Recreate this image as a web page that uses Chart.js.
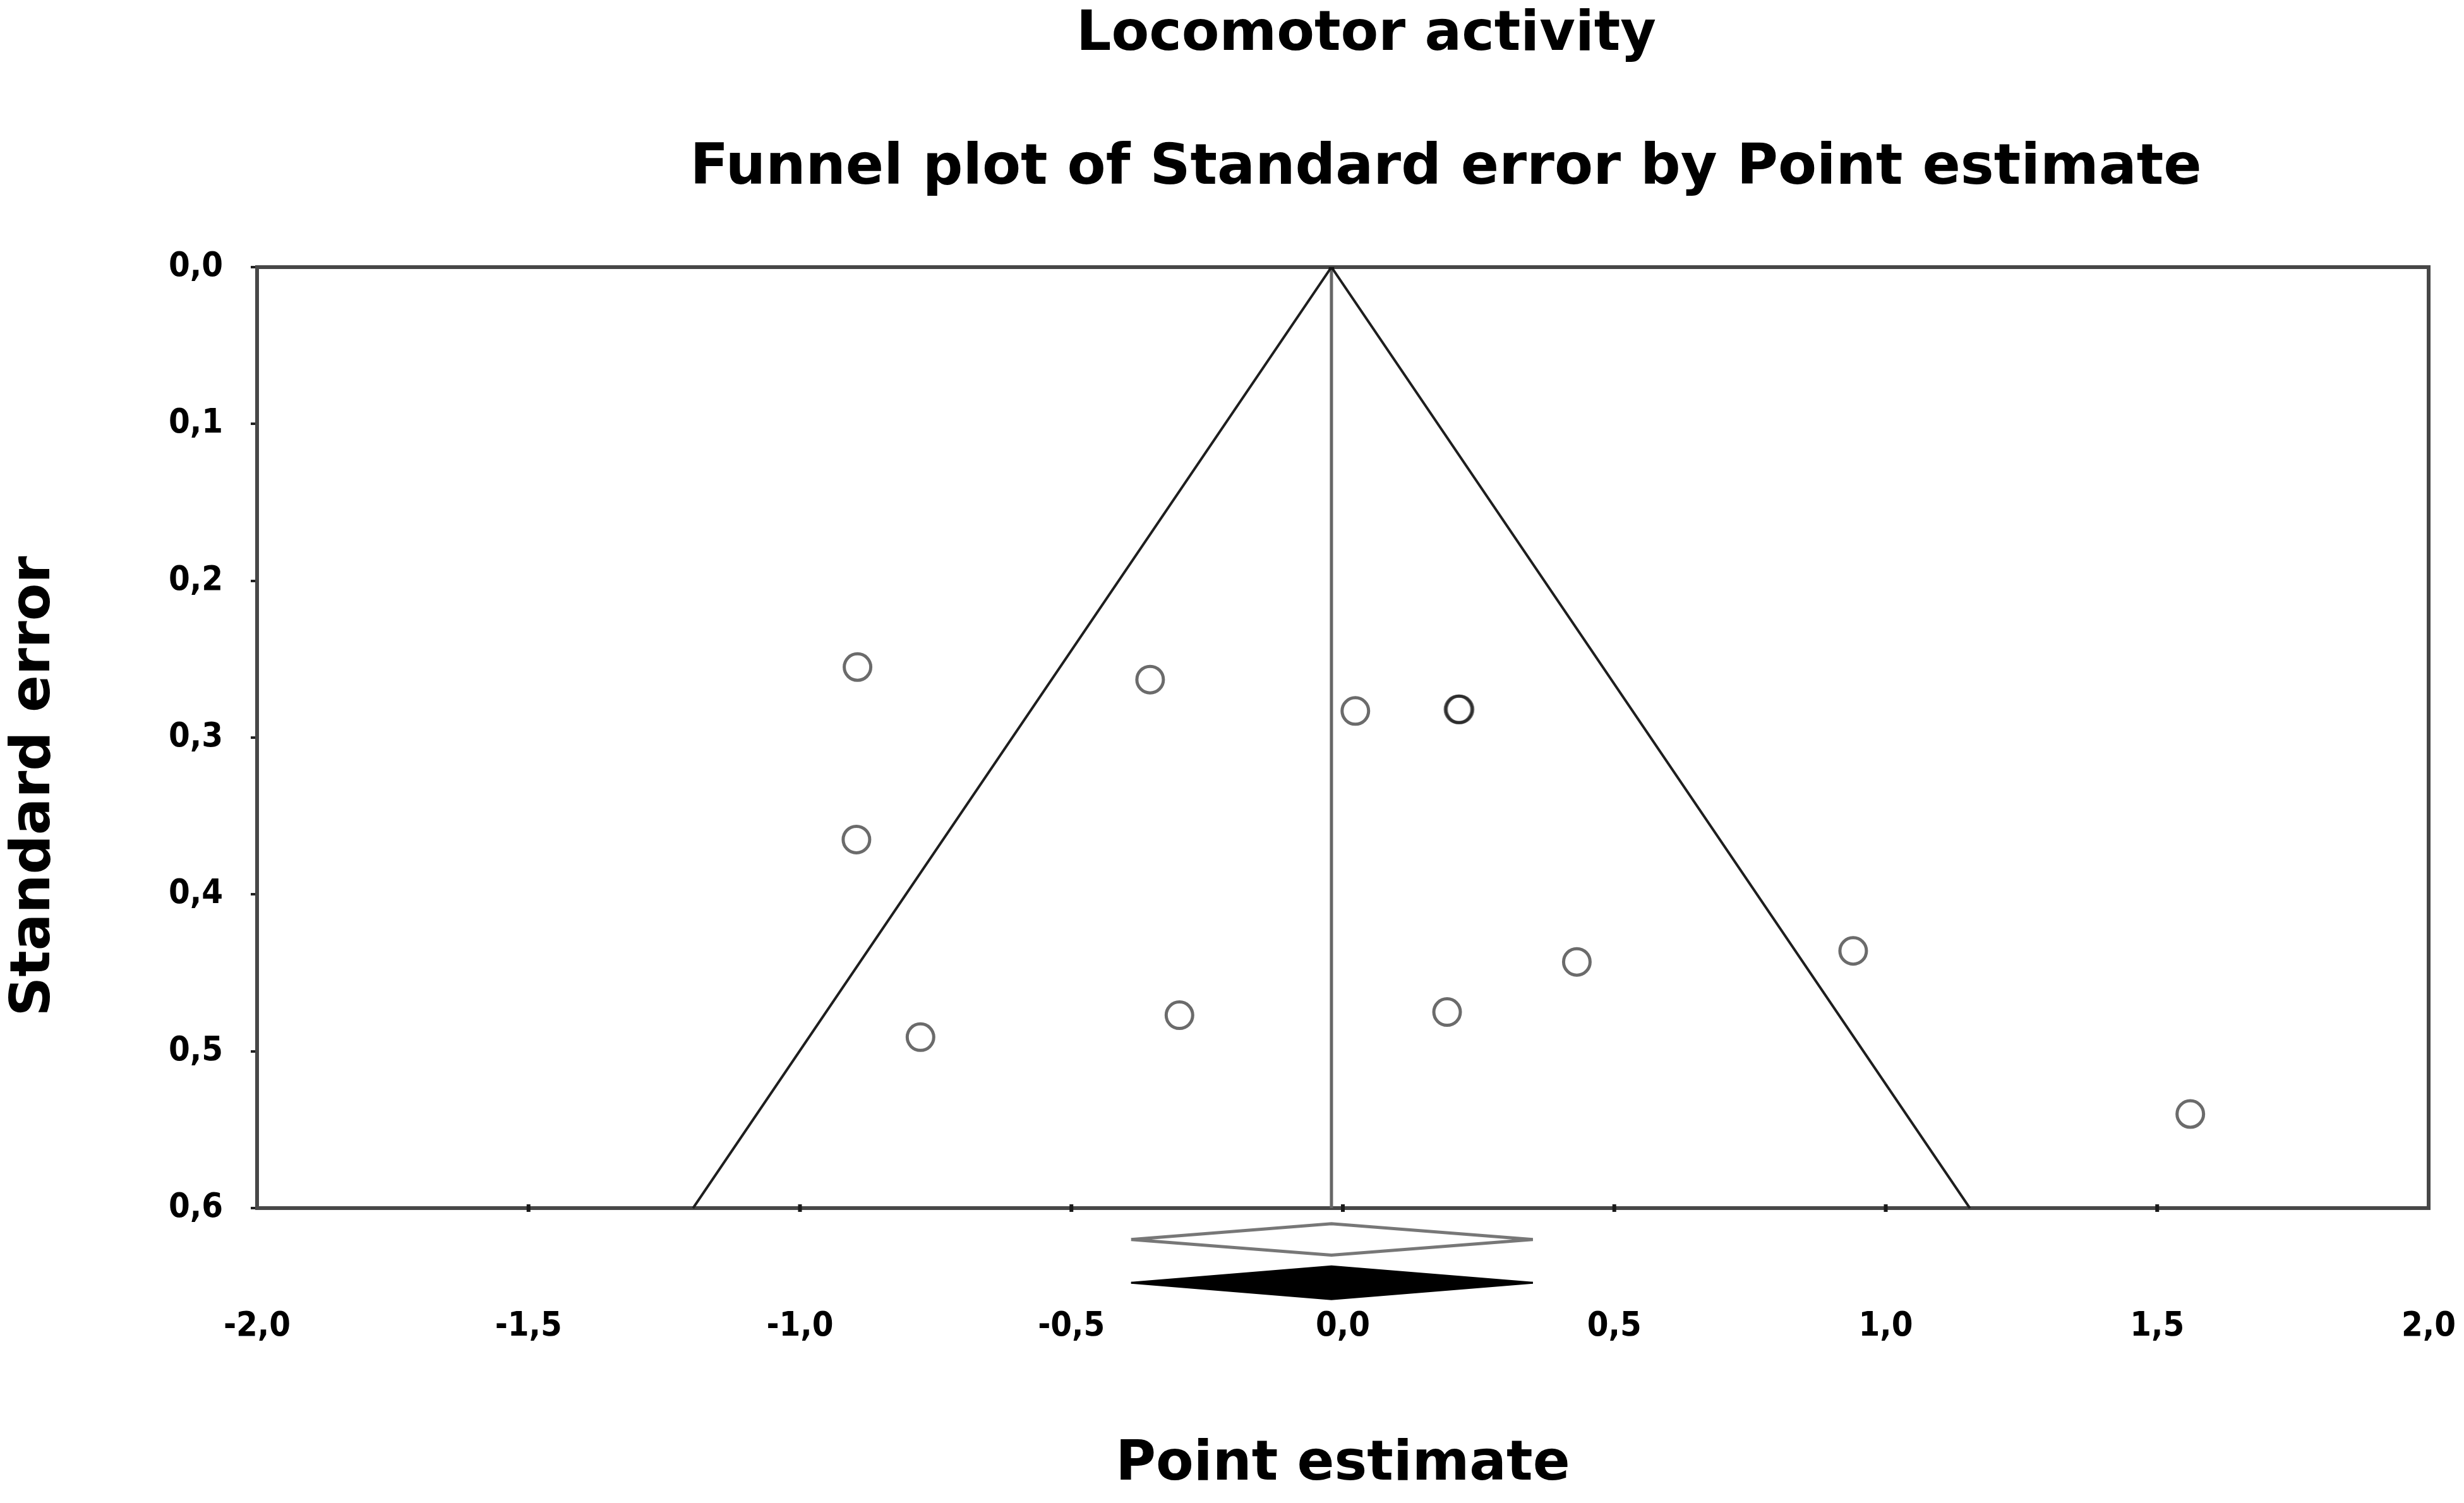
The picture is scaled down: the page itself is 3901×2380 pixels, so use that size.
<!DOCTYPE html>
<html>
<head>
<meta charset="utf-8">
<title>Locomotor activity</title>
<script src="https://cdn.jsdelivr.net/npm/chart.js@4.4.0/dist/chart.umd.min.js"></script>
<style>
  html, body { margin:0; padding:0; background:#fff; }
  #wrap { width:3901px; height:2380px; position:relative; }
</style>
</head>
<body>
<div id="wrap"><canvas id="funnelChart"></canvas></div>
<script>
// studies: point estimate (x) against standard error (y)
const pointEstimate = [-0.894, -0.355, 0.023, 0.213, 0.215, -0.896, -0.778, -0.301, 0.192, 0.431, 0.940, 1.561];
const standardError = [0.255, 0.263, 0.283, 0.282, 0.282, 0.365, 0.491, 0.477, 0.475, 0.443, 0.436, 0.540];

// funnel limits and mean line
const funnelX = [-1.197, -0.021, 1.155];
const funnelY = [0.6, 0.0, 0.6];
const meanX = [-0.021, -0.021];
const meanY = [0.0, 0.6];

// summary diamonds under the axis (observed = open, imputed = filled)
const diamondX = [-0.39, -0.021, 0.35, -0.021, -0.39];
const observedY = [0.620, 0.610, 0.620, 0.630, 0.620];
const imputedX = [-0.39, -0.021, 0.35];
const imputedTopY = [0.6476, 0.6371, 0.6476];
const imputedBottomY = [0.6476, 0.6581, 0.6476];

const xTicks = [-2.0, -1.5, -1.0, -0.5, 0.0, 0.5, 1.0, 1.5, 2.0];
const yTicks = [0.0, 0.1, 0.2, 0.3, 0.4, 0.5, 0.6];

const mainTitle = "Locomotor activity";
const subTitle = "Funnel plot of Standard error by Point estimate";

const FONT = '"DejaVu Sans", Verdana, sans-serif';
const TICKFONT = '"DejaVu Sans Condensed", "DejaVu Sans", sans-serif';

const pts = (xs, ys) => xs.map((x, i) => ({x: x, y: ys[i]}));
const fmt = v => Number(v).toFixed(1).replace('.', ',');

// box round the plot, down to SE = 0.6, with the little x tick marks
const framePlugin = {
  id: 'frame',
  beforeDatasetsDraw(chart) {
    const {ctx, chartArea} = chart;
    const x = chart.scales.x, y = chart.scales.y;
    const top = y.getPixelForValue(yTicks[0]);
    const bottom = y.getPixelForValue(yTicks[yTicks.length - 1]);
    ctx.save();
    ctx.strokeStyle = '#474747';
    ctx.lineWidth = 6;
    ctx.strokeRect(chartArea.left, top, chartArea.right - chartArea.left, bottom - top);
    ctx.fillStyle = '#1a1a1a';
    xTicks.slice(1, -1).forEach(v => {
      const px = x.getPixelForValue(v);
      ctx.fillRect(px - 3, bottom - 6, 6, 12);
    });
    ctx.restore();
  }
};

const titlePlugin = {
  id: 'titles',
  afterDraw(chart) {
    const {ctx, chartArea} = chart;
    const mid = (chartArea.left + chartArea.right) / 2;
    ctx.save();
    ctx.fillStyle = '#000';
    ctx.textAlign = 'center';
    ctx.textBaseline = 'middle';
    ctx.font = 'bold 87px ' + FONT;
    ctx.fillText(mainTitle, mid + 37, 56);
    ctx.font = 'bold 89px ' + FONT;
    ctx.fillText(subTitle, mid + 163, 268);
    ctx.restore();
  }
};

const ctx = document.getElementById("funnelChart").getContext("2d");

const chart = new Chart(ctx, {
  type: 'scatter',
  data: {
    datasets: [
      {label: 'funnel', data: pts(funnelX, funnelY), showLine: true, borderColor: '#1e1e1e', borderWidth: 4,
       pointRadius: c => c.dataIndex === 1 ? 6 : 0, pointStyle: 'rect', pointBackgroundColor: '#111', pointBorderWidth: 0},
      {label: 'mean', data: pts(meanX, meanY), showLine: true, borderColor: '#666', borderWidth: 5, pointRadius: 0},
      {label: 'studies', data: pts(pointEstimate, standardError), pointRadius: 21, borderWidth: 5,
       borderColor: 'rgba(0,0,0,0.58)', backgroundColor: 'rgba(0,0,0,0)'},
      {label: 'observed', data: pts(diamondX, observedY), showLine: true, borderColor: '#777', borderWidth: 5,
       pointRadius: 0, fill: false},
      {label: 'imputed', data: pts(imputedX, imputedTopY), showLine: true, borderColor: '#000', borderWidth: 3,
       backgroundColor: '#000', pointRadius: 0, fill: '+1'},
      {label: 'imputed2', data: pts(imputedX, imputedBottomY), showLine: true, borderColor: '#000', borderWidth: 3,
       backgroundColor: '#000', pointRadius: 0, fill: false}
    ]
  },
  options: {
    responsive: true,
    maintainAspectRatio: false,
    animation: false,
    events: [],
    layout: {padding: {top: 423, right: 56, left: 0, bottom: 0}},
    plugins: {legend: {display: false}, tooltip: {enabled: false}},
    scales: {
      x: {
        type: 'linear', min: -2, max: 2,
        afterBuildTicks: axis => { axis.ticks = xTicks.map(v => ({value: v})); },
        afterFit: s => { s.height = 313; },
        grid: {display: false},
        border: {display: false},
        ticks: {callback: fmt, color: '#000', padding: -6, maxRotation: 0, autoSkip: false,
                font: {family: TICKFONT, size: 54, weight: 'bold'}},
        title: {display: true, text: 'Point estimate', color: '#000', padding: {top: 0, bottom: 7},
                font: {family: FONT, size: 87, weight: 'bold'}}
      },
      y: {
        type: 'linear', reverse: true, min: 0, max: 0.662,
        afterBuildTicks: axis => { axis.ticks = yTicks.map(v => ({value: v})); },
        afterFit: s => { s.width = 407; },
        grid: {drawOnChartArea: false, drawTicks: true, tickLength: 10, color: '#222', lineWidth: 4},
        border: {display: false},
        ticks: {callback: fmt, color: '#000', padding: 44,
                font: {family: TICKFONT, size: 54, weight: 'bold'}},
        title: {display: true, text: 'Standard error', color: '#000', padding: {top: 3, bottom: 0},
                font: {family: FONT, size: 87, weight: 'bold'}}
      }
    }
  },
  plugins: [framePlugin, titlePlugin]
});
</script>
</body>
</html>
